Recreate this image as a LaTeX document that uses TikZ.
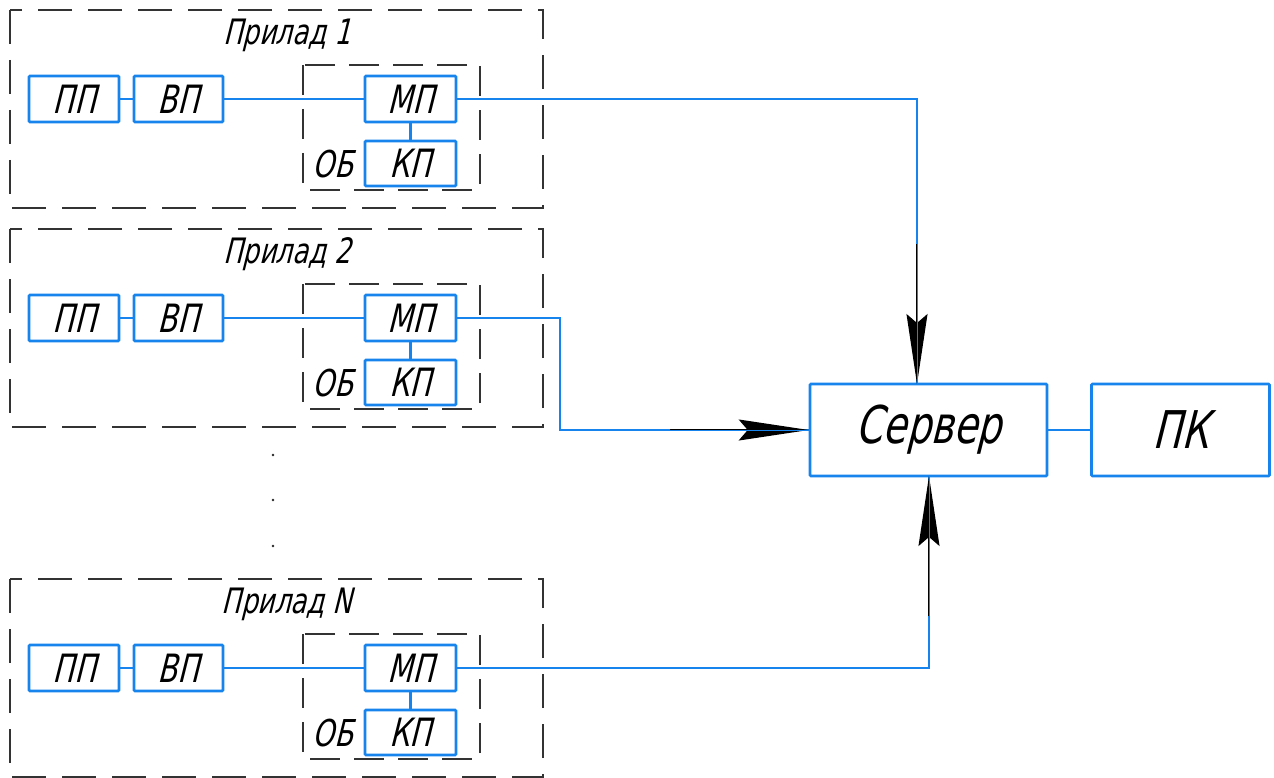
\documentclass[tikz,border=0pt]{standalone}
\usepackage{fontspec}
\setmainfont{DejaVu Sans}[FakeSlant=0.25, FakeStretch=0.74]
\usetikzlibrary{arrows.meta}
\definecolor{lineblue}{RGB}{22,132,236}
\tikzset{
  blk/.style={draw=lineblue, line width=2.6, rounded corners=1, inner sep=0,
              minimum width=90, minimum height=46, font=\fontsize{39}{42}\selectfont},
  bigblk/.style={draw=lineblue, line width=2.6, rounded corners=1, inner sep=0,
              minimum height=92, font=\fontsize{52}{56}\selectfont},
  conn/.style={draw=lineblue, line width=2.6},
  thinconn/.style={draw=lineblue, line width=1},
  dashbox/.style={draw=black!80, line width=1.3, dash pattern=on 34 off 16},
  innerdash/.style={draw=black!80, line width=1.3, dash pattern=on 30 off 14},
  title/.style={inner sep=0, font=\fontsize{35}{38}\selectfont},
  lbl/.style={inner sep=0, font=\fontsize{37}{40}\selectfont},
  tip/.style={draw=black, line width=1.4,
              -{Stealth[length=70, width=21, inset=9]}},
  dot/.style={fill=black!85, circle, inner sep=0, minimum size=2.6}
}
\begin{document}
\begin{tikzpicture}[x=1pt, y=-1pt]
\useasboundingbox (0,0) rectangle (1274,778);

% three device groups: number / vertical offset / caption
\foreach \g/\dy/\lab in {1/0/1, 2/219/2, 3/569/N} {
  \draw[dashbox] (10,{10+\dy}) rectangle (543,{208+\dy});
  \draw[innerdash] (303,{65+\dy}) rectangle (480,{190+\dy});
  \node[title] (t\g) at (287,{35+\dy}) {Прилад \lab};
  \node[blk] (pp\g) at (74,{99+\dy}) {ПП};
  \node[blk, minimum width=89] (vp\g) at (178.5,{99+\dy}) {ВП};
  \node[blk, minimum width=91] (mp\g) at (410.5,{99+\dy}) {МП};
  \node[blk, minimum width=91, minimum height=45] (kp\g) at (410.5,{163.5+\dy}) {КП};
  \node[lbl] (ob\g) at (333,{164+\dy}) {ОБ};
  \draw[conn] (pp\g) -- (vp\g);
  \draw[conn] (vp\g) -- (mp\g);
  \draw[conn] (mp\g) -- (kp\g);
}

% vertical ellipsis between the groups
\node[dot] (d1) at (273,455) {};
\node[dot] (d2) at (273,500) {};
\node[dot] (d3) at (273,546) {};

% server and PC
\node[bigblk, minimum width=237] (server) at (928.5,430) {Сервер};
\node[bigblk, minimum width=178] (pk) at (1180.5,430) {ПК};
\draw[conn] (server) -- (pk);

% entry points on the server box and arrow tails
\coordinate (in1) at (917,384);
\coordinate (in2) at (server.west);
\coordinate (in3) at (929,476);
\coordinate (bend2) at (560,430);
\coordinate (a1) at (917,244);
\coordinate (a2) at (670,430);
\coordinate (a3) at (929,616);

% links from the devices to the server
\draw[conn] (mp1.east) -| (in1);
\draw[conn] (mp2.east) -| (bend2) -- (in2);
\draw[conn] (mp3.east) -| (in3);

% arrowheads
\draw[tip] (a1) -- (in1);
\draw[tip] (a2) -- (in2);
\draw[tip] (a3) -- (in3);
\draw[thinconn] (a1) -- (in1);
\draw[thinconn] (a2) -- (in2);
\draw[thinconn] (a3) -- (in3);
\end{tikzpicture}
\end{document}
